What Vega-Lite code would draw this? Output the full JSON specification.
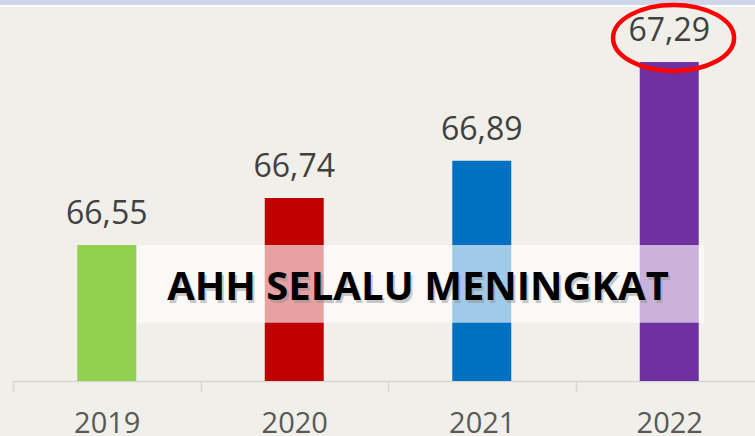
{
  "$schema": "https://vega.github.io/schema/vega-lite/v6.json",
  "width": 750,
  "height": 371,
  "autosize": "none",
  "padding": {"left": 13, "top": 10, "right": 0, "bottom": 55},
  "background": "#f0efe9",
  "config": {
    "view": {"stroke": null},
    "locale": {"number": {"decimal": ",", "thousands": ".", "grouping": [3], "currency": ["", ""]}}
  },
  "datasets": {
    "ahh": [
      {"year": "2019", "value": 66.55},
      {"year": "2020", "value": 66.74},
      {"year": "2021", "value": 66.89},
      {"year": "2022", "value": 67.29}
    ],
    "topband": [{"x0": -0.1, "x1": 4.1, "y0": 67.516, "y1": 67.6}],
    "banner": [{"x0": 0.661, "x1": 3.685, "y0": 66.236, "y1": 66.55, "xc": 2.16, "yb": 66.3275, "text": "AHH SELALU MENINGKAT"}],
    "ring": [{"x": 3.523, "y": 67.387}]
  },
  "resolve": {"scale": {"x": "independent"}, "axis": {"x": "independent"}},
  "layer": [
    {
      "data": {"name": "topband"},
      "mark": {"type": "rect", "fill": "#cdd5e6", "stroke": "#ffffff", "strokeWidth": 2},
      "encoding": {
        "x": {"field": "x0", "type": "quantitative", "scale": {"domain": [0, 4]}, "axis": null},
        "x2": {"field": "x1"},
        "y": {"field": "y0", "type": "quantitative", "scale": {"domain": [66, 67.5], "zero": false, "nice": false}, "axis": null},
        "y2": {"field": "y1"}
      }
    },
    {
      "data": {"name": "ahh"},
      "mark": {"type": "bar", "width": {"band": 0.3145}},
      "encoding": {
        "x": {
          "field": "year", "type": "ordinal",
          "scale": {"paddingInner": 0, "paddingOuter": 0},
          "axis": {
            "title": null, "labelAngle": 0, "domainColor": "#d6d6d6", "domainWidth": 1.5,
            "tickColor": "#d6d6d6", "tickWidth": 1.5, "tickSize": 10, "tickBand": "extent",
            "labelFont": "Open Sans", "labelFontSize": 29, "labelColor": "#595959",
            "labelPadding": 41, "labelBaseline": "alphabetic"
          }
        },
        "y": {"field": "value", "type": "quantitative", "scale": {"domain": [66, 67.5], "zero": false, "nice": false}, "axis": null},
        "y2": {"datum": 66},
        "color": {
          "field": "year", "type": "nominal",
          "scale": {"domain": ["2019", "2020", "2021", "2022"], "range": ["#92d050", "#c00000", "#0070c0", "#7030a0"]},
          "legend": null
        }
      }
    },
    {
      "data": {"name": "banner"},
      "mark": {"type": "rect", "fill": "#ffffff", "opacity": 0.63},
      "encoding": {
        "x": {"field": "x0", "type": "quantitative", "scale": {"domain": [0, 4]}, "axis": null},
        "x2": {"field": "x1"},
        "y": {"field": "y0", "type": "quantitative", "scale": {"domain": [66, 67.5], "zero": false, "nice": false}, "axis": null},
        "y2": {"field": "y1"}
      }
    },
    {
      "data": {"name": "banner"},
      "mark": {"type": "text", "font": "Open Sans", "fontWeight": "bold", "fontSize": 40, "color": "#8c8c8c", "opacity": 0.45, "baseline": "alphabetic", "align": "center", "dx": 2, "dy": 3},
      "encoding": {
        "x": {"field": "xc", "type": "quantitative", "scale": {"domain": [0, 4]}, "axis": null},
        "y": {"field": "yb", "type": "quantitative", "scale": {"domain": [66, 67.5], "zero": false, "nice": false}, "axis": null},
        "text": {"field": "text"}
      }
    },
    {
      "data": {"name": "banner"},
      "mark": {"type": "text", "font": "Open Sans", "fontWeight": "bold", "fontSize": 40, "color": "#000000", "baseline": "alphabetic", "align": "center"},
      "encoding": {
        "x": {"field": "xc", "type": "quantitative", "scale": {"domain": [0, 4]}, "axis": null},
        "y": {"field": "yb", "type": "quantitative", "scale": {"domain": [66, 67.5], "zero": false, "nice": false}, "axis": null},
        "text": {"field": "text"}
      }
    },
    {
      "data": {"name": "ahh"},
      "mark": {"type": "text", "font": "Open Sans", "fontSize": 32, "color": "#404040", "baseline": "alphabetic", "align": "center", "dy": -21},
      "encoding": {
        "x": {"field": "year", "type": "ordinal", "scale": {"paddingInner": 0, "paddingOuter": 0}, "axis": null},
        "y": {"field": "value", "type": "quantitative", "scale": {"domain": [66, 67.5], "zero": false, "nice": false}, "axis": null},
        "text": {"field": "value", "type": "quantitative", "format": ".2f"}
      }
    },
    {
      "data": {"name": "ring"},
      "mark": {"type": "point", "shape": "M-1,0A1,0.545,0,1,1,1,0A1,0.545,0,1,1,-1,0Z", "size": 14641, "filled": false, "stroke": "#ff0000", "strokeWidth": 4.5, "opacity": 1},
      "encoding": {
        "x": {"field": "x", "type": "quantitative", "scale": {"domain": [0, 4]}, "axis": null},
        "y": {"field": "y", "type": "quantitative", "scale": {"domain": [66, 67.5], "zero": false, "nice": false}, "axis": null}
      }
    }
  ]
}
